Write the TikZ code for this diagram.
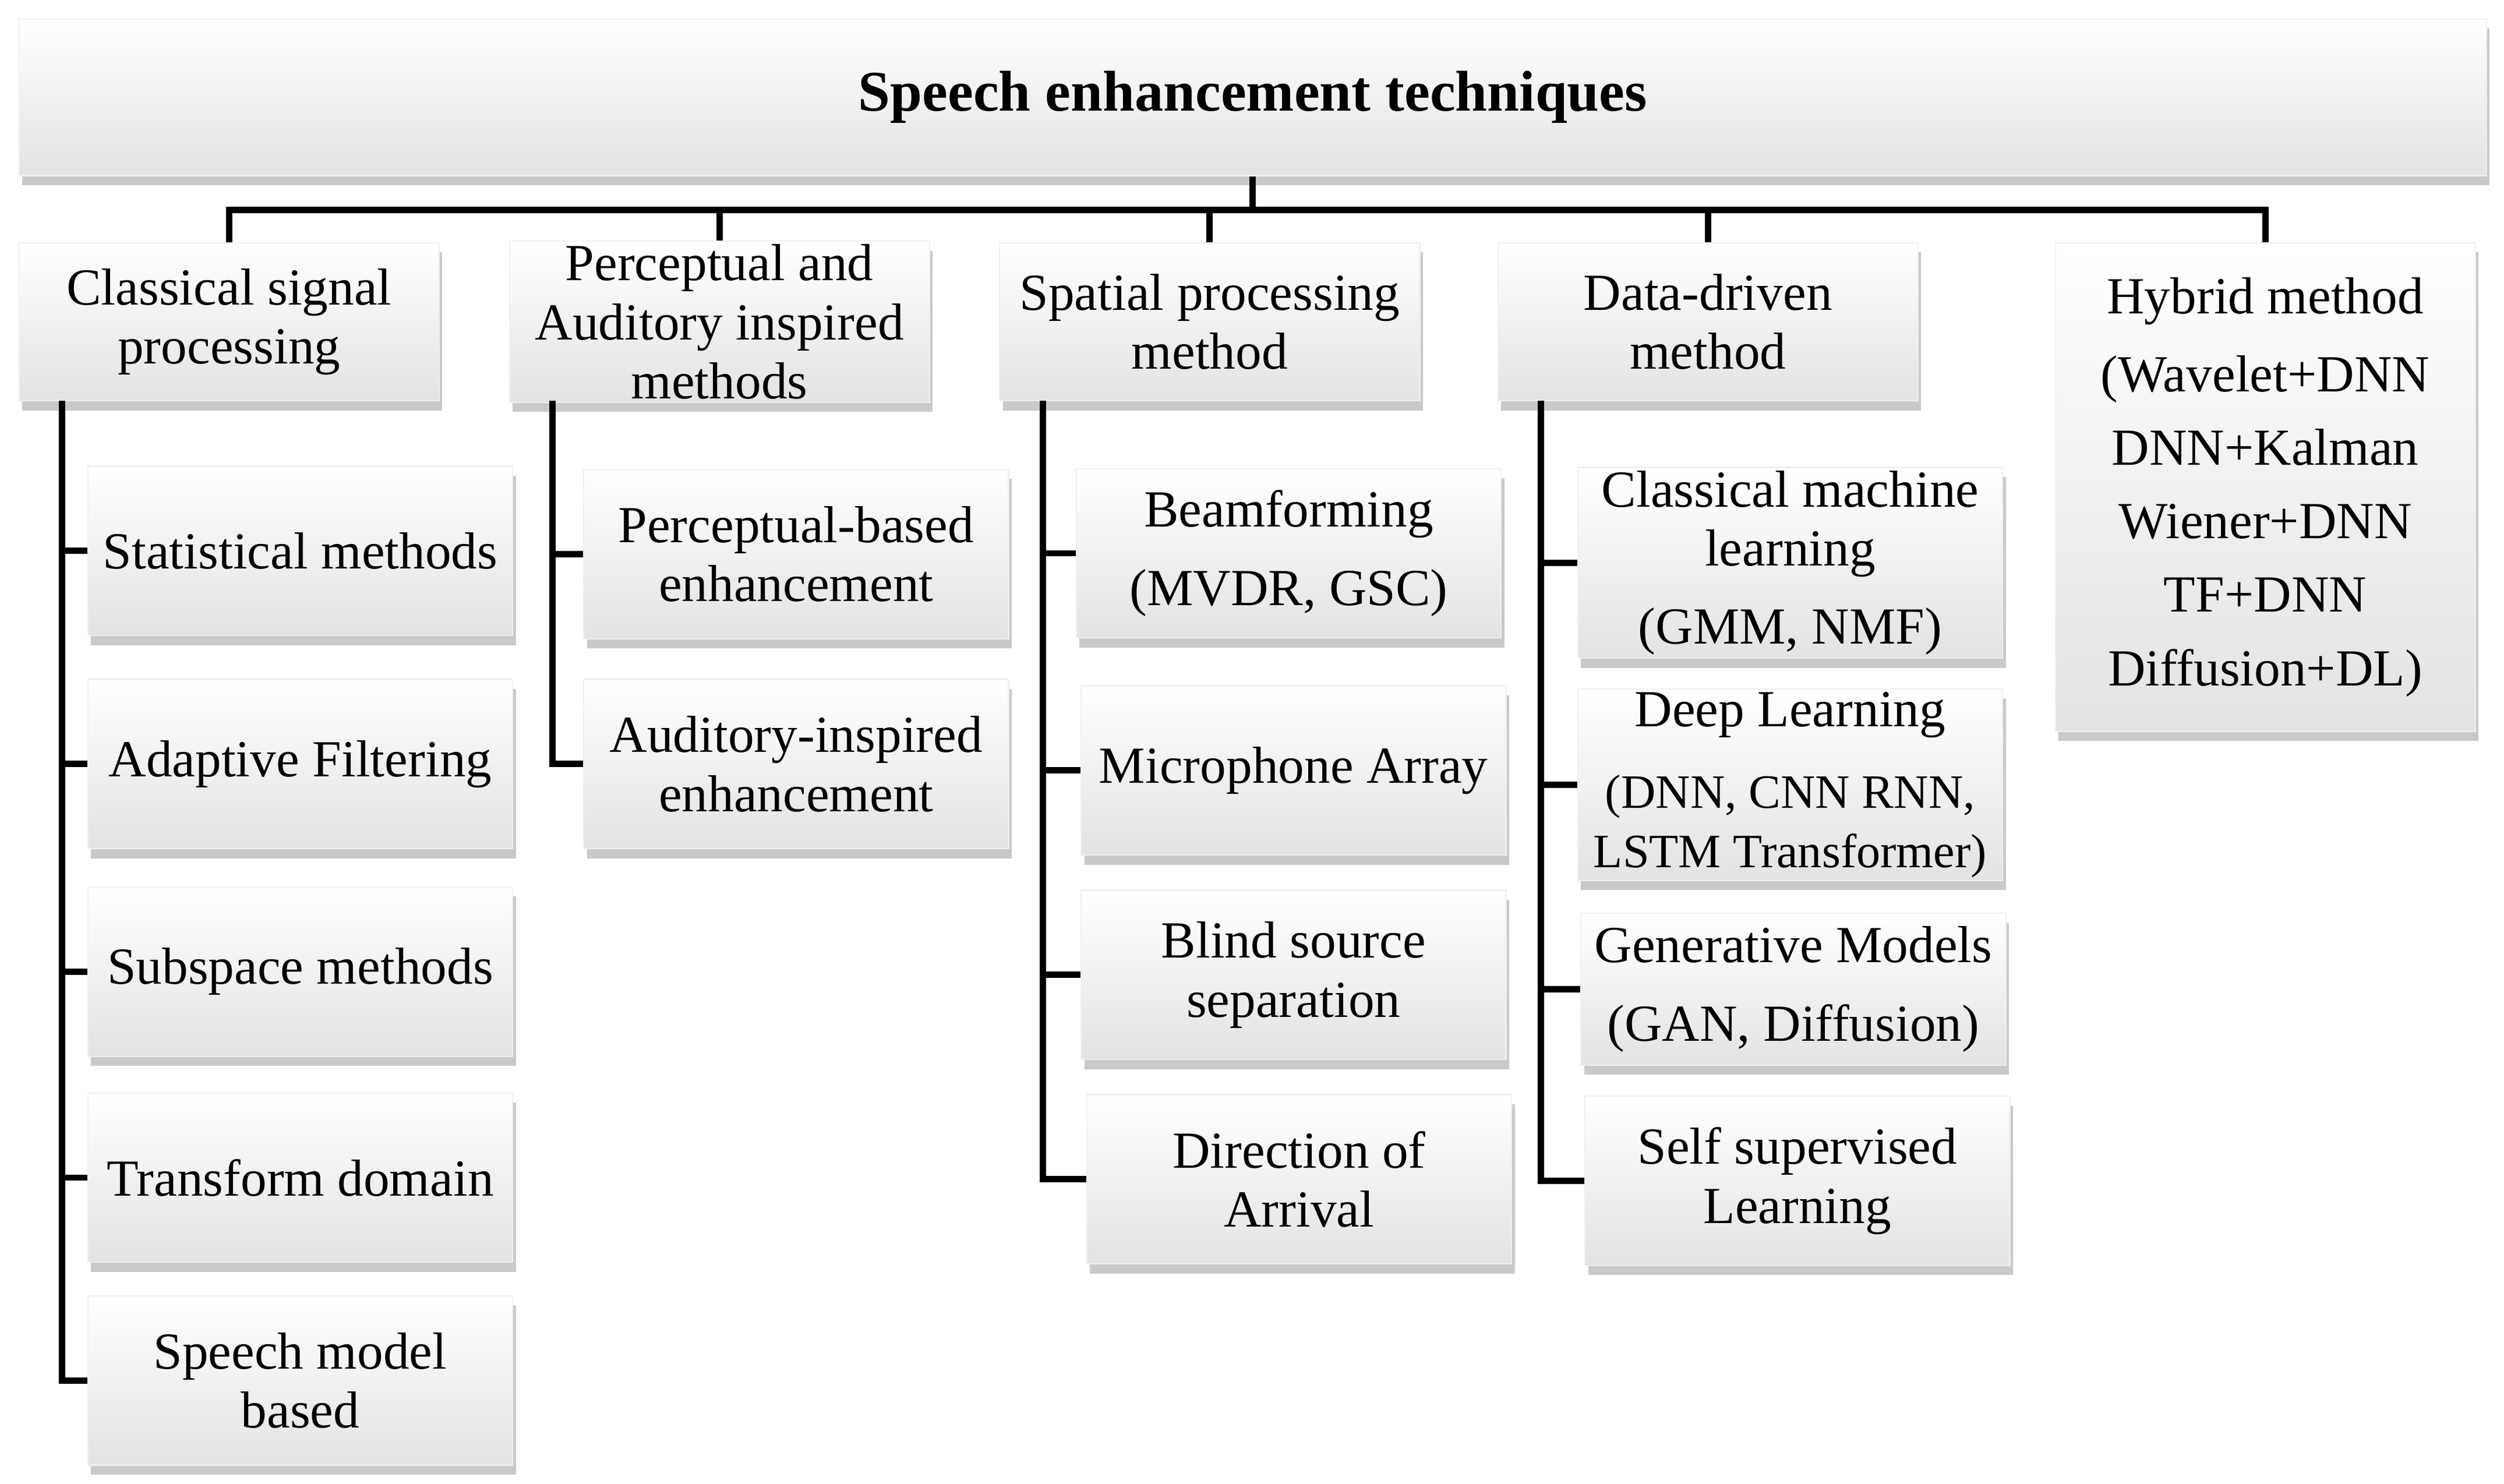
\documentclass[tikz,border=0pt]{standalone}
\usepackage{fontspec}
\setmainfont{Liberation Serif}
\usetikzlibrary{shadows}

\begin{document}
\begin{tikzpicture}[x=0.5pt, y=-0.5pt,
    box/.style={top color=white, bottom color=black!11, draw=black!6,
      drop shadow={shadow xshift=1pt, shadow yshift=-3pt, opacity=0.3, fill=black!70},
      align=center, inner sep=1pt, font=\fontsize{16.3}{18.5}\selectfont},
    cat/.style={box, minimum width=131.5pt, minimum height=49.5pt},
    leaf/.style={box, minimum width=133pt, minimum height=53pt},
    link/.style={line width=2pt}]
    \useasboundingbox (0, 0) rectangle (1568, 929);

    \node[box, minimum width=772.5pt, minimum height=49pt,
      font=\fontsize{18}{20}\selectfont\bfseries] (top) at (784.5, 61) {Speech enhancement techniques};

    \node[cat] (c1) at (143.5, 201.5) {Classical signal\\processing};
    \node[cat] (c2) at (450.5, 201.5) {Perceptual and\\Auditory inspired\\methods};
    \node[cat] (c3) at (757.5, 201.5) {Spatial processing\\method};
    \node[cat] (c4) at (1069.5, 201.5) {Data-driven\\method};
    \node[cat, minimum height=153pt] (c5) at (1418.5, 305)
      {Hybrid method\\[6pt](Wavelet+DNN\\[4.5pt]DNN+Kalman\\[4.5pt]Wiener+DNN\\[4.5pt]TF+DNN\\[4.5pt]Diffusion+DL)};

    \node[leaf] (a1) at (188, 345) {Statistical methods};
    \node[leaf] (a2) at (188, 478.5) {Adaptive Filtering};
    \node[leaf] (a3) at (188, 608.5) {Subspace methods};
    \node[leaf] (a4) at (188, 737.5) {Transform domain};
    \node[leaf] (a5) at (188, 864.5) {Speech model\\based};

    \node[leaf] (b1) at (498.5, 347) {Perceptual-based\\enhancement};
    \node[leaf] (b2) at (498.5, 478.5) {Auditory-inspired\\enhancement};

    \node[leaf] (d1) at (807, 346.5) {Beamforming\\[6pt](MVDR, GSC)};
    \node[leaf] (d2) at (810, 482.5) {Microphone Array};
    \node[leaf] (d3) at (810, 610.5) {Blind source\\separation};
    \node[leaf] (d4) at (813.5, 738.5) {Direction of\\Arrival};

    \node[leaf, minimum height=59.5pt] (e1) at (1121, 352.5) {Classical machine\\learning\\[6pt](GMM, NMF)};
    \node[leaf, minimum height=57.5pt] (e2) at (1121, 491.5)
      {Deep Learning\\[7pt]\fontsize{15}{17}\selectfont(DNN, CNN RNN,\\\fontsize{15}{17}\selectfont LSTM Transformer)};
    \node[leaf, minimum height=47.5pt] (e3) at (1123, 619.5) {Generative Models\\[6pt](GAN, Diffusion)};
    \node[leaf] (e4) at (1125.5, 739.5) {Self supervised\\Learning};

    % top level
    \draw[link] (top.south) -- ++(0, 21) -| (c1.north);
    \draw[link] (top.south) -- ++(0, 21) -| (c2.north);
    \draw[link] (top.south) -- ++(0, 21) -| (c3.north);
    \draw[link] (top.south) -- ++(0, 21) -| (c4.north);
    \draw[link] (top.south) -- ++(0, 21) -| (c5.north);

    % trunks
    \coordinate (t1) at (39, 251);
    \coordinate (t2) at (346, 251);
    \coordinate (t3) at (653, 251);
    \coordinate (t4) at (965, 251);
    \foreach \n in {a1, a2, a3, a4, a5}
      \draw[link] (t1) |- (\n.west);
    \foreach \n in {b1, b2}
      \draw[link] (t2) |- (\n.west);
    \foreach \n in {d1, d2, d3, d4}
      \draw[link] (t3) |- (\n.west);
    \foreach \n in {e1, e2, e3, e4}
      \draw[link] (t4) |- (\n.west);
\end{tikzpicture}
\end{document}
